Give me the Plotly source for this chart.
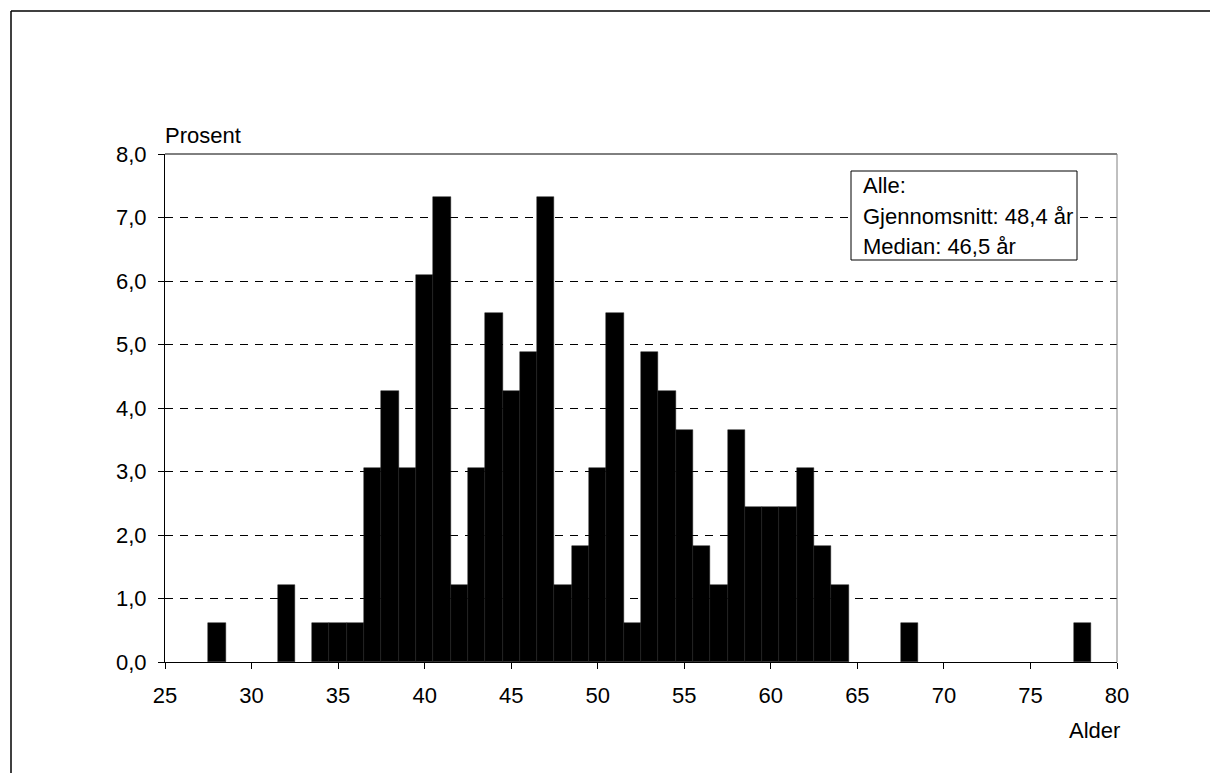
import plotly.graph_objects as go

ages = [28, 32, 34, 35, 36, 37, 38, 39, 40, 41, 42, 43, 44, 45, 46, 47, 48, 49, 50,
        51, 52, 53, 54, 55, 56, 57, 58, 59, 60, 61, 62, 63, 64, 68, 78]
percent = [0.61, 1.22, 0.61, 0.61, 0.61, 3.05, 4.27, 3.05, 6.10, 7.32, 1.22, 3.05, 5.49,
           4.27, 4.88, 7.32, 1.22, 1.83, 3.05, 5.49, 0.61, 4.88, 4.27, 3.66, 1.83, 1.22,
           3.66, 2.44, 2.44, 2.44, 3.05, 1.83, 1.22, 0.61, 0.61]
x_ticks = [25, 30, 35, 40, 45, 50, 55, 60, 65, 70, 75, 80]
y_ticks = [0, 1, 2, 3, 4, 5, 6, 7, 8]
box_lines = ["Alle:", "Gjennomsnitt: 48,4 år", "Median: 46,5 år"]

W, H = 1210, 773
L, R, T, B = 165, 1117, 154, 662
pw, ph = R - L, B - T


def px(x):
    return (x - L) / pw


def py(y):
    return (B - y) / ph


FONT = dict(family="Liberation Sans, Arial, sans-serif", size=22, color="black")

fig = go.Figure()
fig.add_trace(go.Bar(
    x=ages, y=percent, width=1,
    marker=dict(color="black", line=dict(color="#1c1c1c", width=0.5)),
    showlegend=False, hoverinfo="x+y",
))

fig.update_layout(
    width=W, height=H,
    margin=dict(l=L, r=W - R, t=T, b=H - B, pad=0),
    paper_bgcolor="white", plot_bgcolor="white",
    separators=",.",
    bargap=0,
    font=FONT,
    xaxis=dict(
        range=[25, 80], tickvals=x_ticks, ticks="outside", ticklen=6, tickwidth=1,
        tickcolor="black", showgrid=False, zeroline=False, showline=True,
        linecolor="black", linewidth=1, tickfont=FONT, ticklabelstandoff=8,
    ),
    yaxis=dict(
        range=[0, 8], tickvals=y_ticks, tickformat=".1f", ticks="outside", ticklen=6,
        tickwidth=1, tickcolor="black", showgrid=True, gridcolor="black", gridwidth=1,
        griddash="8px,7px", zeroline=False, showline=True, linecolor="black",
        linewidth=1, tickfont=FONT, ticklabelstandoff=7,
    ),
)

shapes = [
    # plot area top and right borders
    dict(type="line", xref="paper", yref="paper", x0=0, x1=1, y0=1, y1=1,
         line=dict(color="black", width=1)),
    dict(type="line", xref="paper", yref="paper", x0=1, x1=1, y0=0, y1=1,
         line=dict(color="#808080", width=1)),
    # outer frame (top and left)
    dict(type="line", xref="paper", yref="paper", x0=px(11), x1=px(W + 5), y0=py(11), y1=py(11),
         line=dict(color="black", width=1.5)),
    dict(type="line", xref="paper", yref="paper", x0=px(11), x1=px(11), y0=py(11), y1=py(H + 5),
         line=dict(color="black", width=1.5)),
    # info box
    dict(type="rect", xref="paper", yref="paper", x0=px(851), x1=px(1077), y0=py(260), y1=py(171),
         line=dict(color="black", width=1), fillcolor="white", layer="above"),
]
fig.update_layout(shapes=shapes)

annotations = [
    dict(text="Prosent", xref="paper", yref="paper", x=px(163), y=py(135),
         xanchor="left", yanchor="middle", showarrow=False, font=FONT),
    dict(text="Alder", xref="paper", yref="paper", x=px(1122), y=py(730),
         xanchor="right", yanchor="middle", showarrow=False, font=FONT),
]
for line, yy in zip(box_lines, [185, 216, 246]):
    annotations.append(dict(text=line, xref="paper", yref="paper", x=px(861), y=py(yy),
                            xanchor="left", yanchor="middle", showarrow=False, font=FONT))
fig.update_layout(annotations=annotations)

fig.write_html(
    "out.html",
    config={"displayModeBar": False},
    post_script="document.body.style.margin='0';document.body.style.overflow='hidden';",
)
